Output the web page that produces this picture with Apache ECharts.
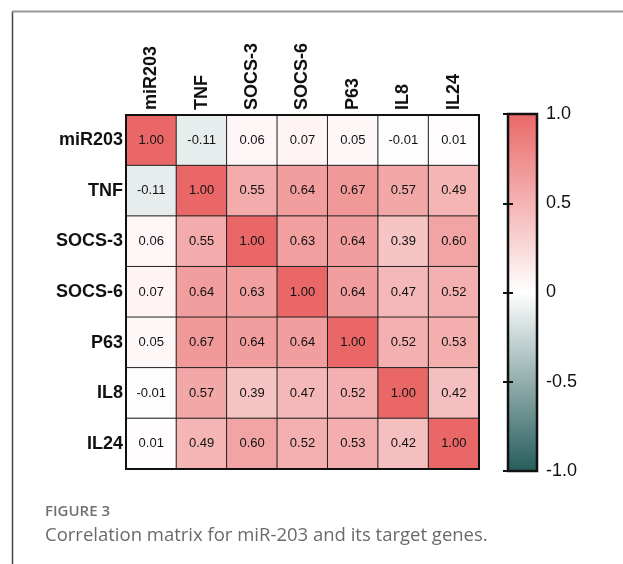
<!DOCTYPE html>
<html>
<head>
<meta charset="utf-8">
<script src="https://cdn.jsdelivr.net/npm/echarts@6/dist/echarts.min.js"></script>
<style>
html,body{margin:0;padding:0;background:#fff;}
#chart{width:623px;height:564px;}
</style>
</head>
<body>
<div id="chart"></div>
<script>
const genes = ['miR203', 'TNF', 'SOCS-3', 'SOCS-6', 'P63', 'IL8', 'IL24'];
const rowMiR203 = [1.00, -0.11, 0.06, 0.07, 0.05, -0.01, 0.01];
const rowTNF    = [-0.11, 1.00, 0.55, 0.64, 0.67, 0.57, 0.49];
const rowSOCS3  = [0.06, 0.55, 1.00, 0.63, 0.64, 0.39, 0.60];
const rowSOCS6  = [0.07, 0.64, 0.63, 1.00, 0.64, 0.47, 0.52];
const rowP63    = [0.05, 0.67, 0.64, 0.64, 1.00, 0.52, 0.53];
const rowIL8    = [-0.01, 0.57, 0.39, 0.47, 0.52, 1.00, 0.42];
const rowIL24   = [0.01, 0.49, 0.60, 0.52, 0.53, 0.42, 1.00];
const scaleTicks = [-1.0, -0.5, 0, 0.5, 1.0];
const captionLabel = 'FIGURE 3';
const captionText = 'Correlation matrix for miR-203 and its target genes.';

const rows = [rowMiR203, rowTNF, rowSOCS3, rowSOCS6, rowP63, rowIL8, rowIL24];
const data = [];
rows.forEach((r, i) => r.forEach((v, j) => data.push([j, i, v])));

const FONT = 'Liberation Sans, Arial, sans-serif';
const chart = echarts.init(document.getElementById('chart'), null, {renderer: 'canvas'});
chart.setOption({
  backgroundColor: '#fff',
  animation: false,
  grid: [
    {left: 126, top: 115, width: 353, height: 354, show: true, borderColor: '#111', borderWidth: 2, backgroundColor: 'transparent', z: 5},
    {left: 508, top: 114, width: 29, height: 357, show: true, borderColor: '#111', borderWidth: 2.5,
     backgroundColor: new echarts.graphic.LinearGradient(0, 0, 0, 1, [
       {offset: 0, color: '#ea6767'}, {offset: 0.5, color: '#ffffff'}, {offset: 1, color: '#245c5a'}])}
  ],
  xAxis: [
    {type: 'category', gridIndex: 0, data: genes, position: 'top',
     axisLine: {show: false}, axisTick: {show: false}, splitLine: {show: false},
     axisLabel: {rotate: -90, fontFamily: FONT, fontWeight: 'bold', fontSize: 18, color: '#111', margin: 5}},
    {type: 'value', gridIndex: 1, show: false, min: 0, max: 1}
  ],
  yAxis: [
    {type: 'category', gridIndex: 0, data: genes, inverse: true,
     axisLine: {show: false}, axisTick: {show: false}, splitLine: {show: false},
     axisLabel: {fontFamily: FONT, fontWeight: 'bold', fontSize: 18, color: '#111', margin: 3}},
    {type: 'value', gridIndex: 1, position: 'right', min: -1, max: 1, interval: 0.5,
     axisLine: {show: false}, splitLine: {show: false},
     axisTick: {show: true, inside: true, length: 5, lineStyle: {color: '#111', width: 2}},
     axisLabel: {fontFamily: FONT, fontSize: 18, color: '#111', margin: 9,
       formatter: v => (v === 0 ? '0' : v.toFixed(1))}},
    {type: 'value', gridIndex: 1, position: 'left', min: -1, max: 1, interval: 0.5,
     axisLine: {show: false}, splitLine: {show: false}, axisLabel: {show: false},
     axisTick: {show: true, inside: true, length: 5, lineStyle: {color: '#111', width: 2}}}
  ],
  visualMap: {
    show: false, type: 'continuous', min: -1, max: 1, seriesIndex: 0,
    inRange: {color: ['#245c5a', '#ffffff', '#ea6767']}
  },
  series: [{
    type: 'heatmap', xAxisIndex: 0, yAxisIndex: 0, data: data,
    itemStyle: {borderColor: '#222', borderWidth: 1},
    label: {show: true, fontFamily: FONT, fontSize: 13, color: '#111',
      formatter: p => p.value[2].toFixed(2)},
    emphasis: {disabled: true}
  }],
  graphic: [
    {type: 'line', shape: {x1: 12.5, y1: 11, x2: 12.5, y2: 564}, style: {stroke: '#444', lineWidth: 1.5}},
    {type: 'line', shape: {x1: 12, y1: 11.5, x2: 623, y2: 11.5}, style: {stroke: '#999', lineWidth: 2}},
    {type: 'text', left: 45, top: 504, style: {text: captionLabel, fill: '#707070', fontFamily: 'Open Sans, sans-serif', fontWeight: 600, fontSize: 15}},
    {type: 'text', left: 45, top: 526, style: {text: captionText, fill: '#6a6a6a', fontFamily: 'Open Sans, sans-serif', fontSize: 18.5}}
  ]
});
</script>
</body>
</html>
